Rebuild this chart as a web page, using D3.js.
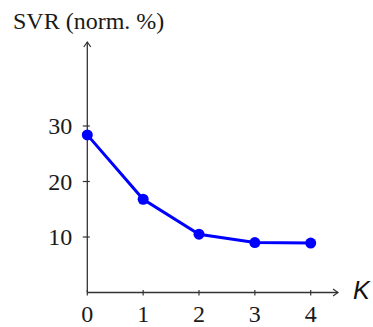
<!DOCTYPE html>
<html><head><meta charset="utf-8">
<script src="https://cdn.jsdelivr.net/npm/d3@7"></script>
<style>body{margin:0;background:#fff}svg{display:block}</style>
</head><body>
<svg id="c" width="373" height="327"></svg>
<script>
const kValues = [0, 1, 2, 3, 4];
const svrValues = [28.4, 16.8, 10.5, 9.0, 8.9];
const yTicks = [10, 20, 30];
const xTicks = [0, 1, 2, 3, 4];

const svg = d3.select("#c");
const x = d3.scaleLinear().domain([0, 4]).range([87.3, 310.7]);
const y = d3.scaleLinear().domain([0, 30]).range([292.5, 126]);
const axisColor = "#333";
const serif = "'Liberation Serif', 'DejaVu Serif', serif";

// y axis line with arrow
svg.append("line").attr("x1", x(0)).attr("x2", x(0)).attr("y1", y(0)).attr("y2", 42)
  .attr("stroke", axisColor).attr("stroke-width", 1.3);
svg.append("path").attr("d", `M${x(0)-3.5},${47} L${x(0)},${42} L${x(0)+3.5},${47}`)
  .attr("fill", "none").attr("stroke", axisColor).attr("stroke-width", 1.2);
// x axis line with arrow
svg.append("line").attr("x1", x(0)).attr("x2", 338).attr("y1", y(0)).attr("y2", y(0))
  .attr("stroke", axisColor).attr("stroke-width", 1.3);
svg.append("path").attr("d", `M${333},${y(0)-3.5} L${338},${y(0)} L${333},${y(0)+3.5}`)
  .attr("fill", "none").attr("stroke", axisColor).attr("stroke-width", 1.2);

// y ticks
svg.selectAll(".yt").data(yTicks).enter().append("line")
  .attr("x1", x(0) - 4.5).attr("x2", x(0) + 2.5)
  .attr("y1", d => y(d)).attr("y2", d => y(d))
  .attr("stroke", axisColor).attr("stroke-width", 1.2);
svg.selectAll(".yl").data(yTicks).enter().append("text")
  .attr("x", x(0) - 15).attr("y", d => y(d)).attr("dy", "0.35em")
  .attr("text-anchor", "end").attr("font-family", serif).attr("font-size", 24)
  .attr("fill", "#1a1a1a").text(d => d);

// x ticks
svg.selectAll(".xt").data(xTicks).enter().append("line")
  .attr("x1", d => x(d)).attr("x2", d => x(d))
  .attr("y1", y(0) - 2.5).attr("y2", y(0) + 3)
  .attr("stroke", axisColor).attr("stroke-width", 1.2);
svg.selectAll(".xl").data(xTicks).enter().append("text")
  .attr("x", d => x(d)).attr("y", 322)
  .attr("text-anchor", "middle").attr("font-family", serif).attr("font-size", 24)
  .attr("fill", "#1a1a1a").text(d => d);

// title
svg.append("text").attr("x", 13).attr("y", 29)
  .attr("font-family", serif).attr("font-size", 24).attr("fill", "#1a1a1a")
  .text("SVR (norm. %)");
// K label
svg.append("text").attr("x", 353).attr("y", 299)
  .attr("font-family", "'Liberation Sans', 'DejaVu Sans', sans-serif")
  .attr("font-style", "italic").attr("font-size", 25).attr("fill", "#111")
  .text("K");

// series
const line = d3.line().x((d, i) => x(kValues[i])).y(d => y(d));
svg.append("path").datum(svrValues).attr("d", line)
  .attr("fill", "none").attr("stroke", "#0000ff").attr("stroke-width", 3);
svg.selectAll(".pt").data(svrValues).enter().append("circle")
  .attr("cx", (d, i) => x(kValues[i])).attr("cy", d => y(d)).attr("r", 5.5)
  .attr("fill", "#0000ff");
</script>
</body></html>
